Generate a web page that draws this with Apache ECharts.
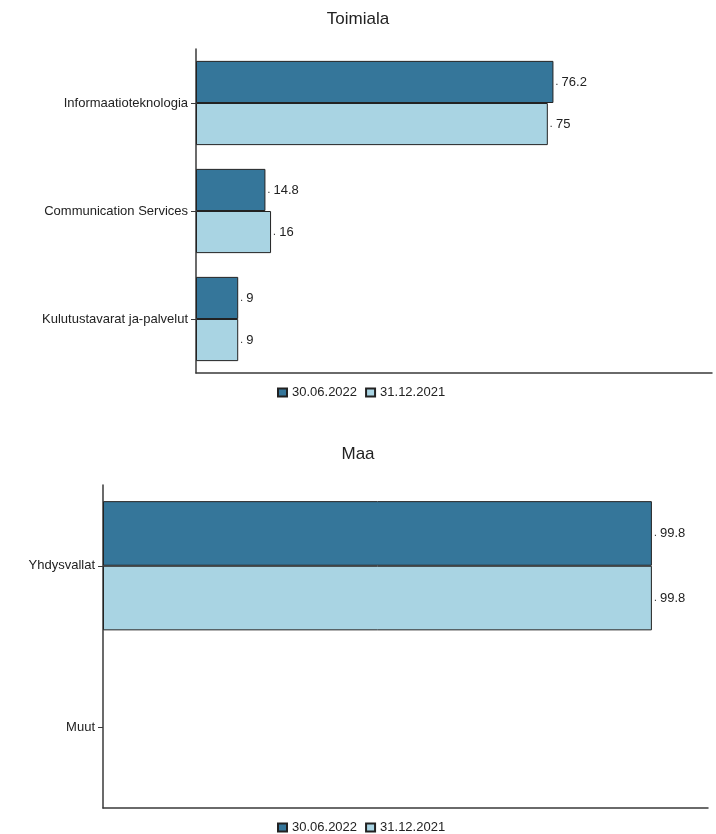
<!DOCTYPE html>
<html>
<head>
<meta charset="utf-8">
<script src="https://cdn.jsdelivr.net/npm/echarts@6/dist/echarts.min.js"></script>
<style>
html,body{margin:0;padding:0;background:#fff;}
#c{width:716px;height:834px;}
</style>
</head>
<body>
<div id="c"></div>
<script>
var seriesNames = ['30.06.2022', '31.12.2021'];
var industryTitle = 'Toimiala';
var industryCategories = ['Informaatioteknologia', 'Communication Services', 'Kulutustavarat ja-palvelut'];
var industryJun2022 = [76.2, 14.8, 9];
var industryDec2021 = [75, 16, 9];
var countryTitle = 'Maa';
var countryCategories = ['Yhdysvallat', 'Muut'];
var countryJun2022 = [99.8, null];
var countryDec2021 = [99.8, null];

var FONT = '"Liberation Sans", Arial, Helvetica, sans-serif';
var DARK = '#35769a';
var LIGHT = '#a9d4e3';
var BORDER = '#222';
var AXIS = '#3a3a3a';

function yAx(cats, gi) {
  return {
    type: 'category', gridIndex: gi, data: cats, inverse: true,
    axisLine: {show: true, lineStyle: {color: AXIS, width: 1.5}},
    axisTick: {show: true, alignWithLabel: true, length: 5, lineStyle: {color: AXIS}},
    axisLabel: {color: '#222', fontSize: 13, fontFamily: FONT, margin: 8}
  };
}
function xAx(gi) {
  return {
    type: 'value', gridIndex: gi, min: 0, max: 110,
    axisLine: {show: true, lineStyle: {color: AXIS, width: 1.5}},
    axisTick: {show: false}, axisLabel: {show: false}, splitLine: {show: false}
  };
}
function bar(name, data, gi, color, gap) {
  return {
    type: 'bar', name: name, data: data, xAxisIndex: gi, yAxisIndex: gi,
    barGap: '0%', barCategoryGap: gap,
    itemStyle: {color: color, borderColor: BORDER, borderWidth: 1},
    label: {
      show: true, position: 'right', distance: 2,
      formatter: function (p) { return '{d|.} {v|' + p.value + '}'; },
      rich: {
        d: {fontSize: 10, color: '#222', fontFamily: FONT},
        v: {fontSize: 13, color: '#222', fontFamily: FONT}
      }
    },
    emphasis: {disabled: true},
    animation: false
  };
}
function legend(top) {
  return {
    data: seriesNames, left: 272, top: top, itemWidth: 9, itemHeight: 8, itemGap: 8,
    icon: 'rect',
    textStyle: {fontSize: 13, color: '#222', fontFamily: FONT},
    selectedMode: false
  };
}

var chart = echarts.init(document.getElementById('c'), null, {renderer: 'canvas'});
chart.setOption({
  animation: false,
  backgroundColor: '#fff',
  title: [
    {text: industryTitle, left: 'center', top: 6, textStyle: {fontSize: 17, fontWeight: 'normal', color: '#222', fontFamily: FONT}},
    {text: countryTitle, left: 'center', top: 441, textStyle: {fontSize: 17, fontWeight: 'normal', color: '#222', fontFamily: FONT}}
  ],
  legend: [legend(381), legend(816)],
  grid: [
    {left: 196, top: 49, width: 516, height: 324},
    {left: 103, top: 485, width: 605, height: 323}
  ],
  xAxis: [xAx(0), xAx(1)],
  yAxis: [yAx(industryCategories, 0), yAx(countryCategories, 1)],
  series: [
    bar(seriesNames[0], industryJun2022, 0, DARK, '22%'),
    bar(seriesNames[1], industryDec2021, 0, LIGHT, '22%'),
    bar(seriesNames[0], countryJun2022, 1, DARK, '20%'),
    bar(seriesNames[1], countryDec2021, 1, LIGHT, '20%')
  ]
});
</script>
</body>
</html>
